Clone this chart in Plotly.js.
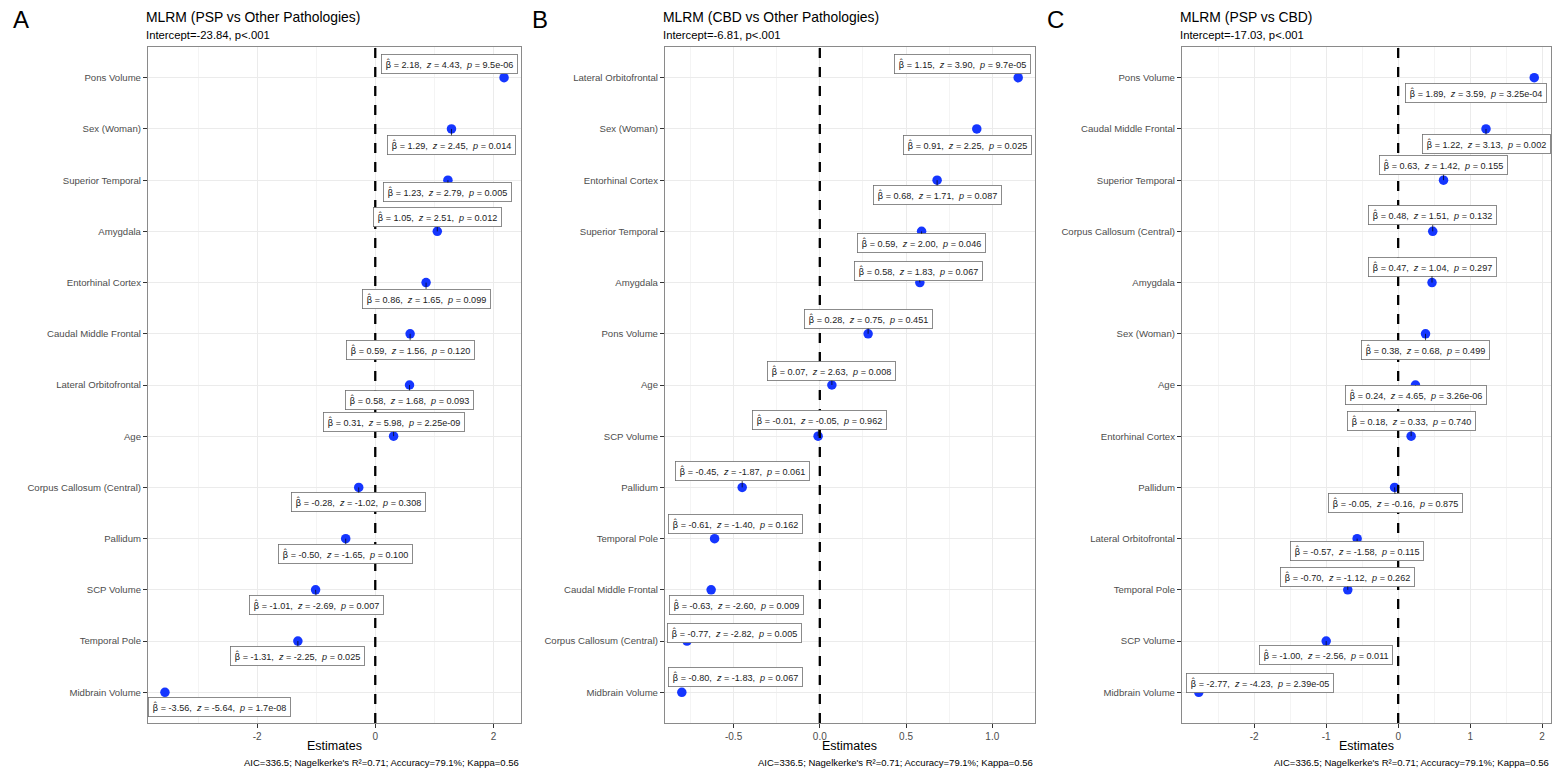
<!DOCTYPE html>
<html>
<head>
<meta charset="utf-8">
<script src="https://cdn.plot.ly/plotly-3.0.1.min.js"></script>
<style>html,body{margin:0;padding:0;background:#fff;}#chart{width:1557px;height:769px;}</style>
</head>
<body>
<div id="chart"></div>
<script>
// ---------- DATA ----------
const catsA = ["Pons Volume","Sex (Woman)","Superior Temporal","Amygdala","Entorhinal Cortex","Caudal Middle Frontal","Lateral Orbitofrontal","Age","Corpus Callosum (Central)","Pallidum","SCP Volume","Temporal Pole","Midbrain Volume"];
const betaA = [2.18,1.29,1.23,1.05,0.86,0.59,0.58,0.31,-0.28,-0.50,-1.01,-1.31,-3.56];
const zA = [4.43,2.45,2.79,2.51,1.65,1.56,1.68,5.98,-1.02,-1.65,-2.69,-2.25,-5.64];
const pA = ["9.5e-06","0.014","0.005","0.012","0.099","0.120","0.093","2.25e-09","0.308","0.100","0.007","0.025","1.7e-08"];
const ticksA = [-2,0,2];

const catsB = ["Lateral Orbitofrontal","Sex (Woman)","Entorhinal Cortex","Superior Temporal","Amygdala","Pons Volume","Age","SCP Volume","Pallidum","Temporal Pole","Caudal Middle Frontal","Corpus Callosum (Central)","Midbrain Volume"];
const betaB = [1.15,0.91,0.68,0.59,0.58,0.28,0.07,-0.01,-0.45,-0.61,-0.63,-0.77,-0.80];
const zB = [3.90,2.25,1.71,2.00,1.83,0.75,2.63,-0.05,-1.87,-1.40,-2.60,-2.82,-1.83];
const pB = ["9.7e-05","0.025","0.087","0.046","0.067","0.451","0.008","0.962","0.061","0.162","0.009","0.005","0.067"];
const ticksB = [-0.5,0,0.5,1.0];

const catsC = ["Pons Volume","Caudal Middle Frontal","Superior Temporal","Corpus Callosum (Central)","Amygdala","Sex (Woman)","Age","Entorhinal Cortex","Pallidum","Lateral Orbitofrontal","Temporal Pole","SCP Volume","Midbrain Volume"];
const betaC = [1.89,1.22,0.63,0.48,0.47,0.38,0.24,0.18,-0.05,-0.57,-0.70,-1.00,-2.77];
const zC = [3.59,3.13,1.42,1.51,1.04,0.68,4.65,0.33,-0.16,-1.58,-1.12,-2.56,-4.23];
const pC = ["3.25e-04","0.002","0.155","0.132","0.297","0.499","3.26e-06","0.740","0.875","0.115","0.262","0.011","2.39e-05"];
const ticksC = [-2,-1,0,1,2];

const titles = ["MLRM (PSP vs Other Pathologies)","MLRM (CBD vs Other Pathologies)","MLRM (PSP vs CBD)"];
const subtitles = ["Intercept=-23.84, p<.001","Intercept=-6.81, p<.001","Intercept=-17.03, p<.001"];
const letters = ["A","B","C"];
const captionText = "AIC=336.5; Nagelkerke's R\u00B2=0.71; Accuracy=79.1%; Kappa=0.56";
const xTitle = "Estimates";

// ---------- LABEL PLACEMENT (pixel offsets of repelled labels) ----------
const offA = {dx:[-55,0,0,0,0,0,0,0,0,0,1,0,55], dy:[-14,16,12,-14,16,16,15,-14,15,15,15,15,15]};
const offB = {dx:[-56,-9,0,0,-1,0,0,1,0,21,25,48,54], dy:[-14,16,15,12,-12,-15,-14,-16,-16,-15,15,-8,-15]};
const offC = {dx:[-58,0,0,0,0,0,1,0,1,0,0,0,61], dy:[15,15,-15,-16,-16,16,10,-15,16,12,-13,14,-9]};

// ---------- LAYOUT GEOMETRY ----------
const W = 1557, H = 769;
const panelsPx = [[148,521],[665,1035],[1182,1551]];
const topPx = 47, botPx = 723;
const minorStep = [1,0.25,0.5];
const fmts = ["d",".1f","d"];

const panels = [
  {cats:catsA, beta:betaA, z:zA, p:pA, off:offA, ticks:ticksA},
  {cats:catsB, beta:betaB, z:zB, p:pB, off:offB, ticks:ticksB},
  {cats:catsC, beta:betaC, z:zC, p:pC, off:offC, ticks:ticksC}
];

const NB = "\u00A0";
function lab(b,z,p){
  return "<span style=\"font-family:'DejaVu Sans'\">\u03B2\u0302</span>"+NB+"="+NB+b.toFixed(2)+","+NB+NB+"<i>z</i>"+NB+"="+NB+z.toFixed(2)+","+NB+NB+"<i>p</i>"+NB+"="+NB+p;
}

const data = [], annotations = [], shapes = [];
const layout = {
  width: W, height: H,
  margin:{l:0,r:0,t:0,b:0},
  paper_bgcolor:"#fff", plot_bgcolor:"#fff",
  showlegend:false,
  font:{family:"Liberation Sans, Arial, sans-serif", color:"#000"}
};

panels.forEach((P,i)=>{
  const xa = i===0 ? "x" : "x"+(i+1);
  const ya = i===0 ? "y" : "y"+(i+1);
  const xk = i===0 ? "xaxis" : "xaxis"+(i+1);
  const yk = i===0 ? "yaxis" : "yaxis"+(i+1);
  const mn = Math.min(...P.beta), mx = Math.max(...P.beta);
  const ext = (mx-mn)*0.05;
  const d0 = panelsPx[i][0]/W, d1 = panelsPx[i][1]/W;
  layout[xk] = {
    domain:[d0,d1], anchor:ya, range:[mn-ext, mx+ext],
    tickmode:"array", tickvals:P.ticks, ticktext:P.ticks.map(v=>fmts[i]==="d"?String(v):v.toFixed(1)),
    showgrid:true, gridcolor:"#EBEBEB", gridwidth:1,
    minor:{tickmode:"linear", dtick:minorStep[i], tick0:0, showgrid:true, gridcolor:"#F4F4F4", gridwidth:1, ticks:""},
    zeroline:false, showline:true, mirror:true, linecolor:"#8a8a8a", linewidth:1.1,
    ticks:"outside", ticklen:4, tickcolor:"#333", tickwidth:1,
    tickfont:{size:10, color:"#4D4D4D"}
  };
  layout[yk] = {
    domain:[1-botPx/H, 1-topPx/H], anchor:xa,
    type:"category", categoryorder:"array", categoryarray:P.cats,
    range:[P.cats.length-0.4, -0.6],
    showgrid:true, gridcolor:"#EBEBEB", gridwidth:1,
    zeroline:false, showline:true, mirror:true, linecolor:"#8a8a8a", linewidth:1.1,
    ticks:"outside", ticklen:4, tickcolor:"#333", tickwidth:1,
    tickfont:{size:9.6, color:"#4D4D4D"}
  };
  data.push({
    type:"scatter", mode:"markers", x:P.beta, y:P.cats, xaxis:xa, yaxis:ya,
    marker:{color:"#1536FF", size:9.5, line:{width:0}}, hoverinfo:"x+y"
  });
  shapes.push({type:"line", xref:xa, yref:ya+" domain", x0:0, x1:0, y0:0, y1:1,
    line:{color:"#000", width:2.3, dash:"10px,9px"}});
  P.beta.forEach((b,j)=>{
    const vertical = Math.abs(P.off.dx[j]) < 5;
    annotations.push({
      xref:xa, yref:ya, x:b, y:P.cats[j],
      text:lab(b,P.z[j],P.p[j]),
      showarrow:true, ax:P.off.dx[j], ay:P.off.dy[j], axref:"pixel", ayref:"pixel",
      arrowhead:0, arrowwidth:0.7, arrowcolor: vertical ? "#000" : "rgba(0,0,0,0)", standoff:0, startstandoff:0,
      bgcolor:"#fff", bordercolor:"#6e6e6e", borderwidth:0.8, borderpad:3.6,
      font:{size:9.1, color:"#222", family:"Liberation Sans, Arial, sans-serif"}
    });
  });
  // titles
  annotations.push({xref:"paper", yref:"paper", x:d0, y:1-17/H, xanchor:"left", yanchor:"middle", xshift:-4,
    text:titles[i], showarrow:false, font:{size:13.9, color:"#000"}});
  annotations.push({xref:"paper", yref:"paper", x:d0, y:1-35/H, xanchor:"left", yanchor:"middle", xshift:-4,
    text:subtitles[i], showarrow:false, font:{size:11.3, color:"#000"}});
  annotations.push({xref:"paper", yref:"paper", x:(d0+d1)/2, y:1-746/H, xanchor:"center", yanchor:"middle",
    text:xTitle, showarrow:false, font:{size:12.5, color:"#000"}});
  annotations.push({xref:"paper", yref:"paper", x:d1, y:1-762/H, xanchor:"right", yanchor:"middle",
    text:captionText, showarrow:false, font:{size:9.5, color:"#000"}});
});
const letterX = [11, 530, 1045];
letters.forEach((L,i)=>{
  annotations.push({xref:"paper", yref:"paper", x:letterX[i]/W, y:1-19/H, xanchor:"left", yanchor:"middle",
    text:L, showarrow:false, font:{size:24, color:"#000"}});
});
layout.annotations = annotations;
layout.shapes = shapes;
Plotly.newPlot("chart", data, layout, {displayModeBar:false, staticPlot:true});
</script>
</body>
</html>
